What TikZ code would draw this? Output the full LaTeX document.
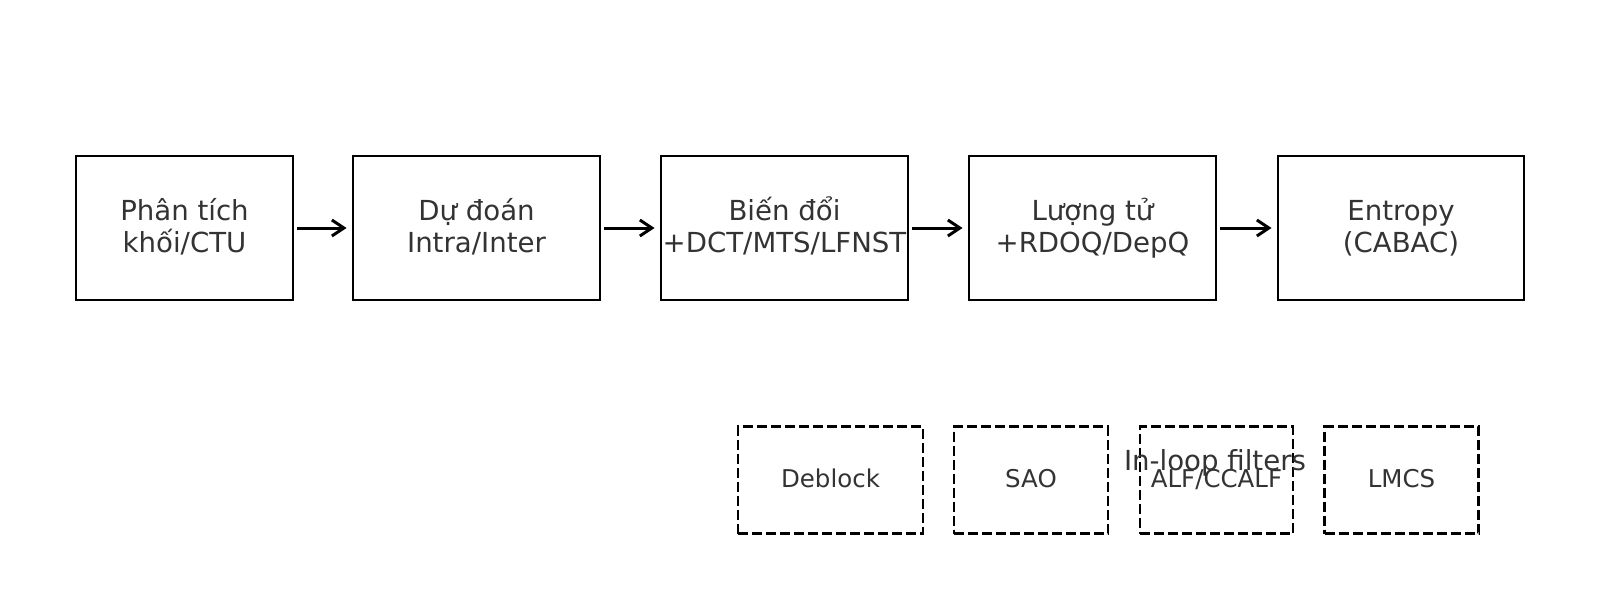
\documentclass[tikz,border=0pt]{standalone}
\usepackage{fontspec}
\setmainfont{DejaVu Sans}
\usetikzlibrary{arrows.meta}
\definecolor{txt}{HTML}{333333}
\tikzset{
  mainbox/.style={draw=black, line width=2.9pt, rectangle, inner sep=0pt,
    minimum height=144pt},
  boxtext/.style={text=txt, inner sep=0pt, anchor=base,
    font=\fontsize{27.6pt}{32pt}\selectfont},
  filtbox/.style={draw=black, line width=2.9pt, dash pattern=on 10pt off 4pt,
    rectangle, inner sep=0pt, minimum height=107pt, text=txt,
    text height=19pt, text depth=5pt,
    font=\fontsize{24.5pt}{30pt}\selectfont},
  flow/.style={draw=black, line width=3pt,
    -{Straight Barb[length=12pt,width=16pt,line width=3pt]},
    shorten <=3pt, shorten >=5pt},
  plainlabel/.style={text=txt, inner sep=0pt, anchor=base,
    font=\fontsize{27.6pt}{32pt}\selectfont}
}
\begin{document}
\begin{tikzpicture}[x=1pt,y=-1pt]
\useasboundingbox (0,0) rectangle (1600,600);
% main row boxes
\node[mainbox, minimum width=217pt] (b1) at (184.5,228) {};
\node[mainbox, minimum width=247pt] (b2) at (476.5,228) {};
\node[mainbox, minimum width=247pt] (b3) at (784.5,228) {};
\node[mainbox, minimum width=247pt] (b4) at (1092.5,228) {};
\node[mainbox, minimum width=246pt] (b5) at (1401,228) {};
% box texts
\node[boxtext] (t1a) at (184.5,220) {Phân tích};
\node[boxtext] (t1b) at (184.5,252) {khối/CTU};
\node[boxtext] (t2a) at (476.5,220) {Dự đoán};
\node[boxtext] (t2b) at (476.5,252) {Intra/Inter};
\node[boxtext] (t3a) at (784.5,220) {Biến đổi};
\node[boxtext] (t3b) at (784.5,252) {+DCT/MTS/LFNST};
\node[boxtext] (t4a) at (1092.5,220) {Lượng tử};
\node[boxtext] (t4b) at (1092.5,252) {+RDOQ/DepQ};
\node[boxtext] (t5a) at (1401,220) {Entropy};
\node[boxtext] (t5b) at (1401,252) {(CABAC)};
% connectors
\draw[flow] (b1) -- (b2);
\draw[flow] (b2) -- (b3);
\draw[flow] (b3) -- (b4);
\draw[flow] (b4) -- (b5);
% in-loop filters
\node[filtbox, minimum width=185pt] (f1) at (830.5,480) {Deblock};
\node[filtbox, minimum width=154pt] (f2) at (1031,480) {SAO};
\node[filtbox, minimum width=153pt] (f3) at (1216.5,480) {ALF/CCALF};
\node[filtbox, minimum width=154pt] (f4) at (1401.5,480) {LMCS};
\node[plainlabel] (lbl) at (1215,470) {In-loop filters};
\end{tikzpicture}
\end{document}
